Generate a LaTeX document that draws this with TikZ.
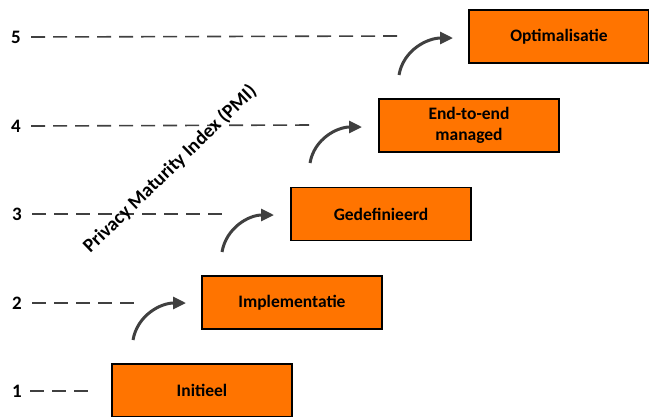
\documentclass[tikz,border=0pt]{standalone}
\usepackage{fontspec}
\setmainfont{Carlito}
\usetikzlibrary{arrows.meta}
\definecolor{boxorange}{RGB}{255,116,0}
\definecolor{linegray}{RGB}{64,64,64}
\tikzset{
  stage/.style={draw=black, line width=1.5pt, fill=boxorange, minimum width=180pt, minimum height=53pt, inner sep=0pt, align=center, font=\fontsize{17.5}{21}\selectfont\bfseries},
  level/.style={inner sep=0pt, font=\fontsize{19}{22}\selectfont\bfseries},
  guide/.style={draw=linegray, line width=1.6pt, dash pattern=on 14pt off 8pt},
  stepup/.style={draw=linegray, line width=3pt, -{Triangle[length=13pt,width=12pt]}},
}
\begin{document}
\begin{tikzpicture}[x=1pt,y=-1pt]
\useasboundingbox (0,0) rectangle (649,416);
% boxes
\node[stage] (b1) at (202,390.5) {Initieel};
\node[stage] (b2) at (292,302.5) {Implementatie};
\node[stage] (b3) at (381,214) {Gedefinieerd};
\node[stage] (b4) at (469,125.5) {End-to-end\\managed};
\node[stage] (b5) at (559,36.5) {Optimalisatie};
% level labels
\node[level] (l1) at (17,391) {1};
\node[level] (l2) at (17,303) {2};
\node[level] (l3) at (17,214) {3};
\node[level] (l4) at (16,126) {4};
\node[level] (l5) at (16,37) {5};
% dashed guide ends
\coordinate (g1) at (88,391);
\coordinate (g2) at (135,303);
\coordinate (g3) at (224,214);
\coordinate (g4) at (312,125);
\coordinate (g5) at (400,36);
\draw[guide] (l1.east) ++(8,0) -- (g1);
\draw[guide] (l2.east) ++(10,0) -- (g2);
\draw[guide] (l3.east) ++(10,0) -- (g3);
\draw[guide] (l4.east) ++(10,0) -- (g4);
\draw[guide] (l5.east) ++(10,0) -- (g5);
% step arrows
\coordinate (s1) at (133,340);
\coordinate (e1) at (186,303);
\coordinate (s2) at (222,252);
\coordinate (e2) at (274,215);
\coordinate (s3) at (310,163);
\coordinate (e3) at (362,127);
\coordinate (s4) at (399,75);
\coordinate (e4) at (453,38);
\draw[stepup] (s1) to[out=80,in=180] (e1);
\draw[stepup] (s2) to[out=80,in=180] (e2);
\draw[stepup] (s3) to[out=80,in=180] (e3);
\draw[stepup] (s4) to[out=80,in=180] (e4);
% axis title
\node[rotate=44, font=\fontsize{19.5}{22}\selectfont\bfseries, inner sep=0pt] (title) at (170,169) {Privacy Maturity Index (PMI)};
\end{tikzpicture}
\end{document}
